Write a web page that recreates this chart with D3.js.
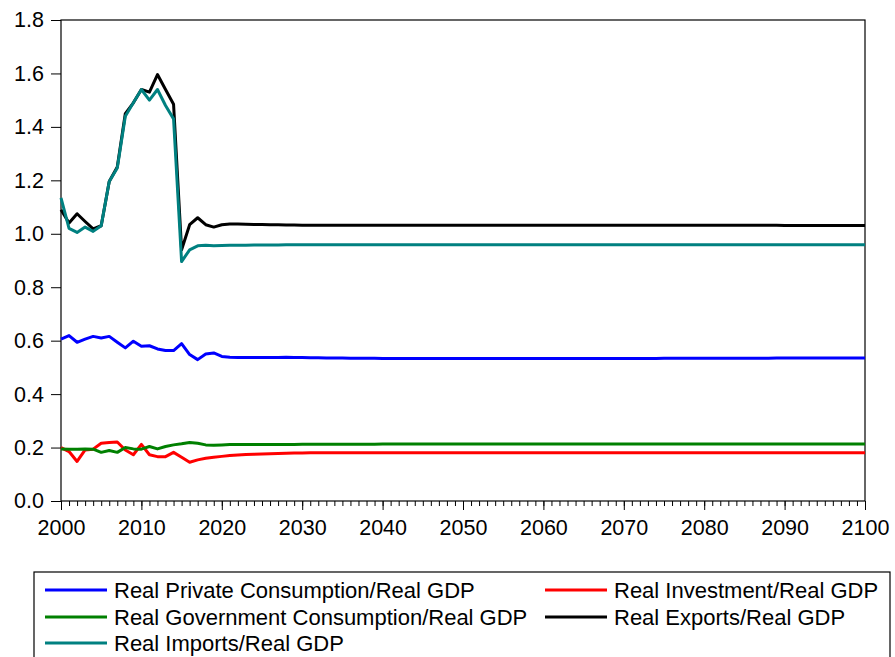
<!DOCTYPE html>
<html>
<head>
<meta charset="utf-8">
<script src="https://cdn.jsdelivr.net/npm/d3@7"></script>
<style>
  body { margin: 0; background: #fff; }
  text { font-family: "Liberation Sans", Arial, sans-serif; }
</style>
</head>
<body>
<script>
// years 2000..2100, one value per year
const years = d3.range(2000, 2101);

const privateCons = [
  0.606, 0.619, 0.594, 0.606, 0.616, 0.610, 0.616, 0.594, 0.573, 0.598,
  0.579, 0.581, 0.569, 0.563, 0.563, 0.589, 0.548, 0.529, 0.550, 0.554,
  0.541, 0.538, 0.537, 0.537, 0.537, 0.537, 0.537, 0.537, 0.538, 0.537,
  0.537, 0.536, 0.536, 0.535, 0.535, 0.535, 0.534, 0.534, 0.534, 0.534,
  0.533, 0.533, 0.533, 0.533, 0.533, 0.533, 0.533, 0.533, 0.533, 0.533,
  0.533, 0.533, 0.533, 0.533, 0.533, 0.533, 0.533, 0.533, 0.533, 0.533,
  0.533, 0.533, 0.533, 0.533, 0.533, 0.533, 0.533, 0.533, 0.533, 0.533,
  0.533, 0.533, 0.533, 0.533, 0.533, 0.534, 0.534, 0.534, 0.534, 0.534,
  0.534, 0.534, 0.534, 0.534, 0.534, 0.534, 0.534, 0.534, 0.534, 0.535,
  0.535, 0.535, 0.535, 0.535, 0.535, 0.535, 0.535, 0.535, 0.535, 0.535,
  0.535
];

const investment = [
  0.200, 0.185, 0.148, 0.191, 0.194, 0.216, 0.219, 0.221, 0.191, 0.173,
  0.212, 0.173, 0.166, 0.166, 0.182, 0.164, 0.145, 0.154, 0.160, 0.164,
  0.167, 0.170, 0.172, 0.174, 0.175, 0.176, 0.177, 0.178, 0.179, 0.180,
  0.180, 0.181, 0.181, 0.181, 0.181, 0.181, 0.181, 0.181, 0.181, 0.181,
  0.181, 0.181, 0.181, 0.181, 0.181, 0.181, 0.181, 0.181, 0.181, 0.181,
  0.181, 0.181, 0.181, 0.181, 0.181, 0.181, 0.181, 0.181, 0.181, 0.181,
  0.181, 0.181, 0.181, 0.181, 0.181, 0.181, 0.181, 0.181, 0.181, 0.181,
  0.181, 0.181, 0.181, 0.181, 0.181, 0.181, 0.181, 0.181, 0.181, 0.181,
  0.181, 0.181, 0.181, 0.181, 0.181, 0.181, 0.181, 0.181, 0.181, 0.181,
  0.181, 0.181, 0.181, 0.181, 0.181, 0.181, 0.181, 0.181, 0.181, 0.181,
  0.181
];

const govCons = [
  0.195, 0.194, 0.194, 0.195, 0.194, 0.182, 0.189, 0.182, 0.200, 0.195,
  0.194, 0.204, 0.195, 0.204, 0.210, 0.214, 0.219, 0.216, 0.210, 0.209,
  0.210, 0.211, 0.211, 0.211, 0.211, 0.211, 0.211, 0.211, 0.211, 0.211,
  0.212, 0.212, 0.212, 0.212, 0.212, 0.212, 0.212, 0.212, 0.212, 0.212,
  0.213, 0.213, 0.213, 0.213, 0.213, 0.213, 0.213, 0.213, 0.213, 0.213,
  0.213, 0.213, 0.213, 0.213, 0.213, 0.213, 0.213, 0.213, 0.213, 0.213,
  0.213, 0.213, 0.213, 0.213, 0.213, 0.213, 0.213, 0.213, 0.213, 0.213,
  0.213, 0.213, 0.213, 0.213, 0.213, 0.213, 0.213, 0.213, 0.213, 0.213,
  0.213, 0.213, 0.213, 0.213, 0.213, 0.213, 0.213, 0.213, 0.213, 0.213,
  0.213, 0.213, 0.213, 0.213, 0.213, 0.213, 0.213, 0.213, 0.213, 0.213,
  0.213
];

const exports_ = [
  1.090, 1.040, 1.075, 1.046, 1.018, 1.030, 1.196, 1.250, 1.450, 1.490,
  1.540, 1.530, 1.596, 1.540, 1.485, 0.940, 1.034, 1.060, 1.034, 1.025,
  1.034, 1.037, 1.037, 1.036, 1.035, 1.035, 1.034, 1.034, 1.033, 1.033,
  1.032, 1.032, 1.032, 1.032, 1.032, 1.032, 1.032, 1.032, 1.032, 1.032,
  1.032, 1.032, 1.032, 1.032, 1.032, 1.032, 1.032, 1.032, 1.032, 1.032,
  1.032, 1.032, 1.032, 1.032, 1.032, 1.032, 1.032, 1.032, 1.032, 1.032,
  1.032, 1.032, 1.032, 1.032, 1.032, 1.032, 1.032, 1.032, 1.032, 1.032,
  1.032, 1.032, 1.032, 1.032, 1.032, 1.032, 1.032, 1.032, 1.032, 1.032,
  1.032, 1.032, 1.032, 1.032, 1.032, 1.032, 1.032, 1.032, 1.032, 1.032,
  1.031, 1.031, 1.031, 1.031, 1.031, 1.031, 1.031, 1.031, 1.031, 1.031,
  1.031
];

const imports_ = [
  1.134, 1.020, 1.005, 1.025, 1.009, 1.030, 1.196, 1.246, 1.440, 1.490,
  1.540, 1.500, 1.540, 1.480, 1.430, 0.896, 0.940, 0.955, 0.957, 0.955,
  0.956, 0.957, 0.957, 0.957, 0.958, 0.958, 0.958, 0.958, 0.959, 0.959,
  0.959, 0.959, 0.959, 0.959, 0.959, 0.959, 0.959, 0.959, 0.959, 0.959,
  0.959, 0.959, 0.959, 0.959, 0.959, 0.959, 0.959, 0.959, 0.959, 0.959,
  0.959, 0.959, 0.959, 0.959, 0.959, 0.959, 0.959, 0.959, 0.959, 0.959,
  0.959, 0.959, 0.959, 0.959, 0.959, 0.959, 0.959, 0.959, 0.959, 0.959,
  0.959, 0.959, 0.959, 0.959, 0.959, 0.959, 0.959, 0.959, 0.959, 0.959,
  0.959, 0.959, 0.959, 0.959, 0.959, 0.959, 0.959, 0.959, 0.959, 0.959,
  0.959, 0.959, 0.959, 0.959, 0.959, 0.959, 0.959, 0.959, 0.959, 0.959,
  0.959
];

const seriesNames = [
  "Real Private Consumption/Real GDP",
  "Real Investment/Real GDP",
  "Real Government Consumption/Real GDP",
  "Real Exports/Real GDP",
  "Real Imports/Real GDP"
];
const seriesColors = ["#0000ff", "#ff0000", "#008000", "#000000", "#008080"];
const yTicks = [0, 0.2, 0.4, 0.6, 0.8, 1.0, 1.2, 1.4, 1.6, 1.8];
const xTicks = [2000, 2010, 2020, 2030, 2040, 2050, 2060, 2070, 2080, 2090, 2100];

const series = [privateCons, investment, govCons, exports_, imports_].map((vals, i) => ({
  name: seriesNames[i],
  color: seriesColors[i],
  values: vals.map((v, j) => ({ year: years[j], v: v }))
}));

const W = 895, H = 657;
const plot = { left: 61, right: 865, top: 20, bottom: 501 };

const svg = d3.select("body").append("svg")
  .attr("width", W)
  .attr("height", H);

const x = d3.scaleLinear().domain([2000, 2100]).range([plot.left, plot.right]);
const y = d3.scaleLinear().domain([0, 1.8]).range([plot.bottom, plot.top]);

// frame
svg.append("rect")
  .attr("x", plot.left).attr("y", plot.top)
  .attr("width", plot.right - plot.left).attr("height", plot.bottom - plot.top)
  .attr("fill", "none").attr("stroke", "#000").attr("stroke-width", 1.2);

// y axis
const yAxis = svg.append("g")
  .attr("transform", `translate(${plot.left},0)`)
  .call(d3.axisLeft(y).tickValues(yTicks).tickFormat(d3.format(".1f")).tickSize(10).tickPadding(7).tickSizeOuter(0));
yAxis.select(".domain").remove();
yAxis.selectAll("line").attr("stroke", "#000");
yAxis.selectAll("text").attr("font-size", 21.5).attr("fill", "#000");

// x axis: minor ticks every year, labelled every 10
const xMinor = svg.append("g")
  .attr("transform", `translate(0,${plot.bottom})`)
  .call(d3.axisBottom(x).tickValues(years).tickSize(5).tickFormat("").tickSizeOuter(0));
xMinor.select(".domain").remove();
xMinor.selectAll("line").attr("stroke", "#000");

const xAxis = svg.append("g")
  .attr("transform", `translate(0,${plot.bottom})`)
  .call(d3.axisBottom(x).tickValues(xTicks).tickFormat(d3.format("d")).tickSize(9).tickPadding(10).tickSizeOuter(0));
xAxis.select(".domain").remove();
xAxis.selectAll("line").attr("stroke", "#000");
xAxis.selectAll("text").attr("font-size", 21.5).attr("fill", "#000");

// lines
const line = d3.line().x(d => x(d.year)).y(d => y(d.v));
svg.append("g").selectAll("path")
  .data(series)
  .join("path")
  .attr("d", d => line(d.values))
  .attr("fill", "none")
  .attr("stroke", d => d.color)
  .attr("stroke-width", 3)
  .attr("stroke-linejoin", "round");

// legend
const legend = svg.append("g");
legend.append("rect")
  .attr("x", 34).attr("y", 572)
  .attr("width", 856).attr("height", 100)
  .attr("fill", "none").attr("stroke", "#000").attr("stroke-width", 1.2);

const legendPos = [[45, 590], [545, 590], [45, 617], [545, 617], [45, 643]];
const items = legend.selectAll("g.item")
  .data(series)
  .join("g")
  .attr("class", "item")
  .attr("transform", (d, i) => `translate(${legendPos[i][0]},${legendPos[i][1]})`);
items.append("line")
  .attr("x1", 0).attr("x2", 62)
  .attr("stroke", d => d.color).attr("stroke-width", 3);
items.append("text")
  .attr("x", 69).attr("dy", "0.35em")
  .attr("font-size", 22)
  .attr("fill", "#000")
  .text(d => d.name);
</script>
</body>
</html>
